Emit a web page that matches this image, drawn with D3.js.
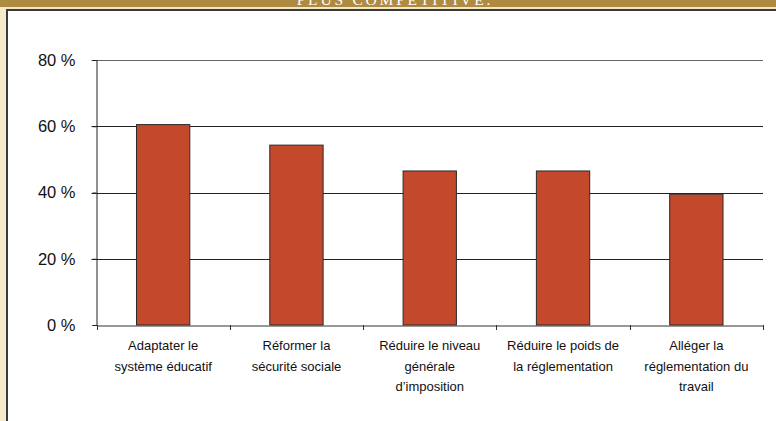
<!DOCTYPE html>
<html>
<head>
<meta charset="utf-8">
<script src="https://cdn.jsdelivr.net/npm/d3@7"></script>
<style>
  html, body { margin: 0; padding: 0; background: #fff; overflow: hidden; }
  svg { display: block; }
</style>
</head>
<body>
<script>
// Share of respondents favouring each reform
const categories = [
  ["Adaptater le", "système éducatif"],
  ["Réformer la", "sécurité sociale"],
  ["Réduire le niveau", "générale", "d’imposition"],
  ["Réduire le poids de", "la réglementation"],
  ["Alléger la", "réglementation du", "travail"]
];
const values = [60.5, 54.3, 46.5, 46.5, 39.5];
const yTicks = [0, 20, 40, 60, 80];
const title = "PLUS COMPÉTITIVE.";

const W = 776, H = 421;
const svg = d3.select("body").append("svg").attr("width", W).attr("height", H);

// Page frame: gold header band, beige left margin, dark rules
svg.append("rect").attr("x", 0).attr("y", 0).attr("width", W).attr("height", 7).attr("fill", "#AF8A41");
svg.append("rect").attr("x", 0).attr("y", 7).attr("width", W).attr("height", 2).attr("fill", "#F3E6C4");
svg.append("rect").attr("x", 0).attr("y", 0).attr("width", 6).attr("height", H).attr("fill", "#F5EAC9");
svg.append("rect").attr("x", 0).attr("y", 0).attr("width", 6).attr("height", 7).attr("fill", "#AF8A41");
svg.append("rect").attr("x", 6).attr("y", 9).attr("width", W - 6).attr("height", 2).attr("fill", "#3a3a3a");
svg.append("rect").attr("x", 6).attr("y", 9).attr("width", 2).attr("height", H - 9).attr("fill", "#3a3a3a");

svg.append("text")
  .attr("x", 395).attr("y", 4.5)
  .attr("text-anchor", "middle")
  .attr("fill", "#fff")
  .attr("font-family", "'Liberation Serif', 'DejaVu Serif', serif")
  .attr("font-size", 15.5)
  .attr("letter-spacing", 2.8)
  .text(title);

// Plot area
const plotLeft = 96.5, plotRight = 763, plotTop = 60, plotBottom = 325;

const x = d3.scaleBand()
  .domain(d3.range(categories.length))
  .range([plotLeft, plotRight])
  .padding(0);

const y = d3.scaleLinear().domain([0, 80]).range([plotBottom, plotTop]);

const g = svg.append("g");

// Horizontal gridlines with short ticks to the left of the axis
g.append("g")
  .selectAll("line")
  .data(yTicks.filter(d => d > 0))
  .join("line")
  .attr("x1", plotLeft - 5).attr("x2", plotRight)
  .attr("y1", d => Math.round(y(d)) + 0.5).attr("y2", d => Math.round(y(d)) + 0.5)
  .attr("stroke", d => d === 80 ? "#666" : "#222")
  .attr("stroke-width", 1);

// Bars
const barW = x.bandwidth() * 0.4;
g.append("g")
  .selectAll("rect")
  .data(values)
  .join("rect")
  .attr("x", (d, i) => x(i) + (x.bandwidth() - barW) / 2)
  .attr("y", d => y(d))
  .attr("width", barW)
  .attr("height", d => y(0) - y(d))
  .attr("fill", "#C4482B")
  .attr("stroke", "#2a2a2a")
  .attr("stroke-width", 1);

// Y axis
const yAxis = d3.axisLeft(y).tickValues(yTicks).tickSize(4).tickFormat(d => d + " %");
const ya = g.append("g").attr("transform", `translate(${plotLeft},0)`).call(yAxis);
ya.select(".domain").attr("stroke", "#222");
ya.selectAll(".tick line").attr("stroke", "#222");
ya.selectAll(".tick text")
  .attr("x", -21)
  .attr("fill", "#111")
  .attr("font-family", "'Liberation Sans', Arial, Helvetica, sans-serif")
  .attr("font-size", 16.5);

// X axis baseline and category separators
const xAxis = d3.axisBottom(x).tickSize(0).tickFormat("");
const xa = g.append("g").attr("transform", `translate(0,${plotBottom + 0.5})`).call(xAxis);
xa.select(".domain").attr("stroke", "#333");
g.append("g")
  .selectAll("line")
  .data(d3.range(categories.length + 1))
  .join("line")
  .attr("x1", i => Math.round(plotLeft + i * x.step()) + 0.5)
  .attr("x2", i => Math.round(plotLeft + i * x.step()) + 0.5)
  .attr("y1", plotBottom).attr("y2", plotBottom + 5)
  .attr("stroke", "#333");

// Category labels
const lab = g.append("g")
  .selectAll("text")
  .data(categories)
  .join("text")
  .attr("text-anchor", "middle")
  .attr("fill", "#111")
  .attr("font-family", "'Liberation Sans', Arial, Helvetica, sans-serif")
  .attr("font-size", 13)
  .attr("transform", (d, i) => `translate(${x(i) + x.bandwidth() / 2},0)`);
lab.selectAll("tspan")
  .data(d => d)
  .join("tspan")
  .attr("x", 0)
  .attr("y", (d, j) => 350 + j * 20.5)
  .text(d => d);
</script>
</body>
</html>
